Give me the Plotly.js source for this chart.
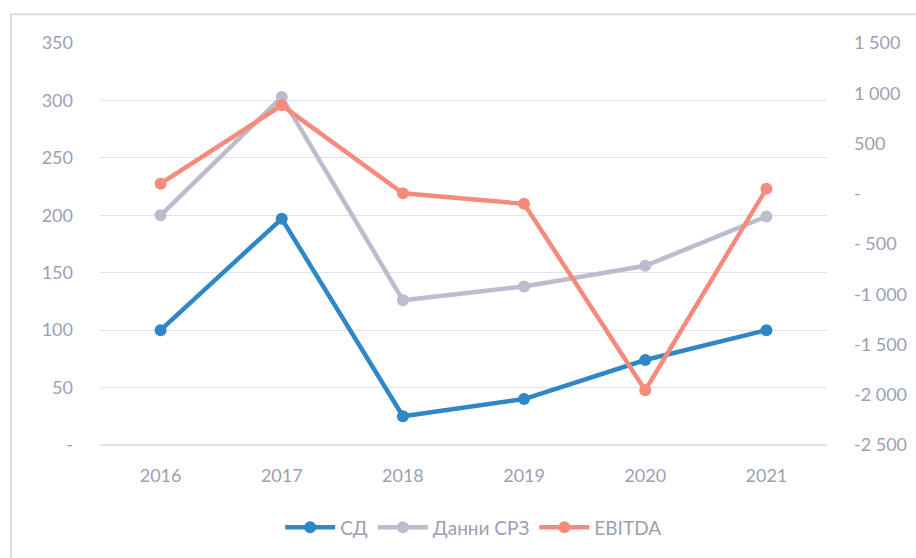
<!DOCTYPE html>
<html>
<head>
<meta charset="utf-8">
<script src="https://cdn.plot.ly/plotly-3.0.1.min.js"></script>
<style>html,body{margin:0;padding:0;background:#fff;}#chart{width:916px;height:558px;}</style>
</head>
<body>
<div id="chart"></div>
<script>
const years = ['2016', '2017', '2018', '2019', '2020', '2021'];
const sdValues = [100, 197, 25, 40, 74, 100];
const srzValues = [200, 303, 126, 138, 156, 199];
const ebitdaValues = [100, 880, 5, -100, -1955, 50];
const leftTickVals = [0, 50, 100, 150, 200, 250, 300, 350];
const leftTickText = ['-', '50', '100', '150', '200', '250', '300', '350'];
const rightTickVals = [-2500, -2000, -1500, -1000, -500, 0, 500, 1000, 1500];
const rightTickText = ['-2 500', '-2 000', '-1 500', '-1 000', '- 500', '-', '500', '1 000', '1 500'];

const font = 'Lato, "Open Sans", sans-serif';
const textColor = '#9C9FB4';
const gridColor = '#DDE3EC';
const clear = 'rgba(0,0,0,0)';

const traces = [
  {x: years, y: sdValues, name: 'СД', type: 'scatter', mode: 'lines+markers',
   line: {color: '#2F87C6', width: 4.5}, marker: {color: '#2F87C6', size: 12}, yaxis: 'y'},
  {x: years, y: srzValues, name: 'Данни СРЗ', type: 'scatter', mode: 'lines+markers',
   line: {color: '#BBBDCF', width: 4.5}, marker: {color: '#BBBDCF', size: 12}, yaxis: 'y'},
  {x: years, y: ebitdaValues, name: 'EBITDA', type: 'scatter', mode: 'lines+markers',
   line: {color: '#F48B7D', width: 4.5}, marker: {color: '#F48B7D', size: 12}, yaxis: 'y2'}
];

const layout = {
  width: 916, height: 558,
  margin: {l: 100, r: 89, t: 43, b: 111},
  paper_bgcolor: '#fff', plot_bgcolor: clear,
  font: {family: font, size: 18, color: textColor},
  showlegend: true,
  legend: {orientation: 'h', x: 0.514, xanchor: 'center', y: -0.205, yanchor: 'middle',
           itemwidth: 50, font: {family: font, size: 19, color: textColor}},
  xaxis: {type: 'category', range: [-0.5, 5.5], showgrid: false, zeroline: false, showline: false, linecolor: clear,
          ticks: '', ticklabelstandoff: 18,
          tickfont: {family: font, size: 18, color: textColor}},
  yaxis: {range: [0, 350], tickvals: leftTickVals, ticktext: leftTickText,
          showgrid: true, gridcolor: gridColor, gridwidth: 1.2, zeroline: true, zerolinecolor: gridColor, zerolinewidth: 1.2,
          showline: false, linecolor: clear, ticks: '', ticklabelstandoff: 26,
          tickfont: {family: font, size: 18, color: textColor}},
  yaxis2: {range: [-2500, 1500], overlaying: 'y', side: 'right', tickvals: rightTickVals, ticktext: rightTickText,
           showgrid: false, gridcolor: clear, zeroline: false, zerolinecolor: clear, showline: false, linecolor: clear,
           ticks: '', ticklabelstandoff: 26,
           tickfont: {family: font, size: 18, color: textColor}},
  shapes: [{type: 'rect', xref: 'paper', yref: 'paper', x0: -0.1224, x1: 1.2, y0: -0.4, y1: 1.0718,
            line: {color: '#D7DEEA', width: 2}, fillcolor: clear, layer: 'below'}]
};

Plotly.newPlot('chart', traces, layout, {displayModeBar: false, staticPlot: true});
</script>
</body>
</html>
